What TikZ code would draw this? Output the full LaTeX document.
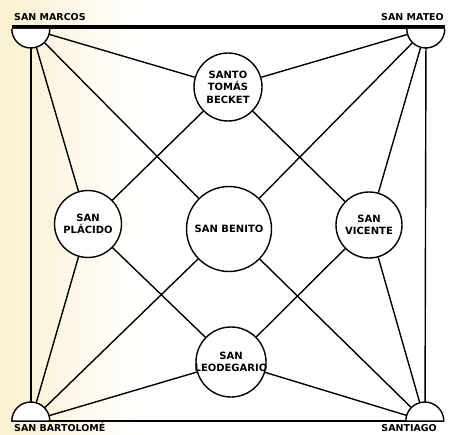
\documentclass[tikz,border=0pt]{standalone}
\usepackage{fontspec}
\setmainfont{DejaVu Sans}
\usetikzlibrary{positioning, calc}
\definecolor{crema}{RGB}{250,240,208}
\tikzset{
    santo/.style={circle, draw, line width=1.4pt, fill=white, inner sep=0pt,
        align=center, font=\bfseries\fontsize{10}{12.5}\selectfont},
    esquina/.style={circle, inner sep=0pt, minimum size=38pt},
    rotulo/.style={inner sep=0pt, font=\bfseries\fontsize{9.5}{11}\selectfont},
    enlace/.style={line width=1.4pt},
}

\begin{document}
\begin{tikzpicture}[x=1pt,y=1pt]
    \useasboundingbox (0,0) rectangle (449,434);
    \fill[white] (0,0) rectangle (449,434);
    \shade[left color=crema, right color=white] (0,0) rectangle (140,434);
    % esquinas
    \node[esquina] (marcos) at (31,405) {};
    \node[esquina] (mateo) at (426,405) {};
    \node[esquina] (bartolome) at (31,13) {};
    \node[esquina] (santiago) at (425,13) {};
    % santos
    \node[santo, minimum size=68pt] (tomas) at (228,347) {SANTO\\TOMÁS\\BECKET};
    \node[santo, minimum size=67pt] (placido) at (88,210) {SAN\\PLÁCIDO};
    \node[santo, minimum size=85pt] (benito) at (229,205) {SAN BENITO};
    \node[santo, minimum size=66pt] (vicente) at (369,209) {SAN\\VICENTE};
    \node[santo, minimum size=70pt, inner sep=-6pt] (leodegario) at (231,72) {SAN\\LEODEGARIO};
    % enlaces
    \foreach \a/\b in {marcos/tomas, marcos/placido, marcos/benito,
                       mateo/tomas, mateo/vicente, mateo/benito,
                       bartolome/placido, bartolome/leodegario, bartolome/benito,
                       santiago/vicente, santiago/leodegario, santiago/benito,
                       tomas/placido, tomas/vicente,
                       placido/leodegario, vicente/leodegario,
                       marcos/bartolome, mateo/santiago}
        \draw[enlace] (\a) -- (\b);
    \draw[line width=4.5pt] ([yshift=2pt]marcos.west) -- ([yshift=2pt]mateo.east);
    \draw[enlace] (bartolome.west) -- (santiago.east);
    % semicirculos
    \draw[enlace, fill=white] (marcos.west) arc[start angle=180, end angle=360, radius=19pt];
    \draw[enlace, fill=white] (mateo.west) arc[start angle=180, end angle=360, radius=19pt];
    \draw[enlace, fill=white] (bartolome.west) arc[start angle=180, end angle=0, radius=19pt] -- cycle;
    \draw[enlace, fill=white] (santiago.west) arc[start angle=180, end angle=0, radius=19pt] -- cycle;
    % rotulos
    \node[rotulo, anchor=base west] (marcostxt) at (14,413) {SAN MARCOS};
    \node[rotulo, anchor=base east] (mateotxt) at (444,413) {SAN MATEO};
    \node[rotulo, anchor=base west] (bartolometxt) at (14,3) {SAN BARTOLOMÉ};
    \node[rotulo, anchor=base east] (santiagotxt) at (437,2.5) {SANTIAGO};
\end{tikzpicture}
\end{document}
